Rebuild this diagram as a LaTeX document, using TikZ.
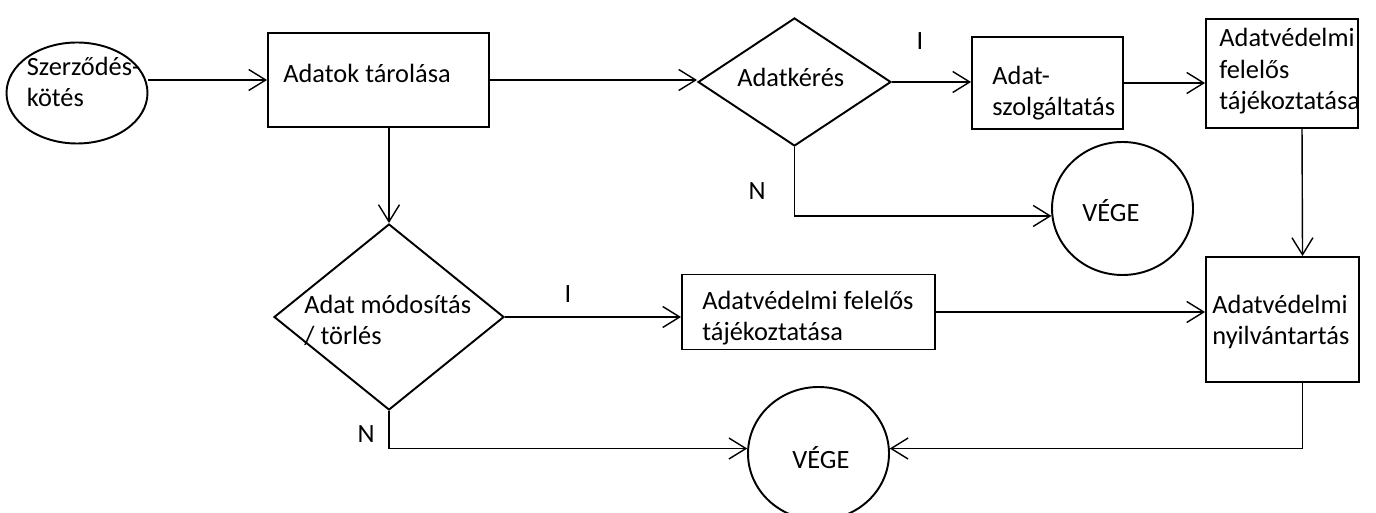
\documentclass[tikz,border=0pt]{standalone}
\usepackage{fontspec}
\setmainfont{Carlito}
\usetikzlibrary{shapes.geometric,arrows.meta}

\begin{document}
\begin{tikzpicture}[
    font=\fontsize{15}{18}\selectfont,
    box/.style={draw, rectangle, line width=1.1pt},
    dontes/.style={draw, diamond, line width=1.1pt, inner sep=0pt},
    vege/.style={draw, ellipse, line width=1.1pt, inner sep=0pt, minimum width=2.82cm, minimum height=2.66cm},
    txt/.style={anchor=base west, align=left, inner sep=0pt},
    nyil/.style={-{Straight Barb[length=3.4mm,width=4.2mm]}, line width=0.8pt}
  ]
    \useasboundingbox (0,0) rectangle (27.52,-10.26);

    % felső sor
    \node[draw, ellipse, line width=1.1pt, inner sep=0pt, minimum width=2.82cm, minimum height=2.02cm] (start) at (1.54,-1.86) {};
    \node[box, minimum width=4.42cm, minimum height=1.88cm] (store) at (7.57,-1.60) {};
    \node[dontes, minimum width=3.86cm, minimum height=2.56cm] (ask) at (15.89,-1.64) {};
    \node[box, minimum width=3.02cm, minimum height=1.84cm] (serve) at (20.95,-1.66) {};
    \node[box, minimum width=3.04cm, minimum height=2.18cm] (info1) at (25.64,-1.47) {};
    \node[vege] (end1) at (22.45,-4.17) {};

    % alsó sor
    \node[dontes, minimum width=4.60cm, minimum height=3.72cm] (modify) at (7.78,-6.34) {};
    \node[box, minimum width=5.06cm, minimum height=1.50cm] (info2) at (16.17,-6.24) {};
    \node[box, minimum width=3.06cm, minimum height=2.50cm] (nyilv) at (25.65,-6.39) {};
    \node[vege] (end2) at (16.37,-9.07) {};

    % szövegek (base = utolsó sor alapvonala)
    \node[txt] (startT) at ([xshift=0.42cm, yshift=-0.28cm]start.west) {Szerződés-\\kötés};
    \node[txt] (storeT) at ([xshift=0.32cm, yshift=-0.06cm]store.west) {Adatok tárolása};
    \node[txt] (askT) at ([xshift=0.80cm, yshift=-0.10cm]ask.west) {Adatkérés};
    \node[txt] (serveT) at ([xshift=0.42cm, yshift=-0.66cm]serve.west) {Adat-\\szolgáltatás};
    \node[txt] (info1T) at ([xshift=0.28cm, yshift=-0.73cm]info1.west) {Adatvédelmi\\felelős\\tájékoztatása};
    \node[txt] (end1T) at ([xshift=0.62cm, yshift=-0.27cm]end1.west) {VÉGE};
    \node[txt] (modifyT) at ([xshift=0.62cm, yshift=-0.56cm]modify.west) {Adat módosítás\\/ törlés};
    \node[txt] (info2T) at ([xshift=0.42cm, yshift=-0.58cm]info2.west) {Adatvédelmi felelős\\tájékoztatása};
    \node[txt] (nyilvT) at ([xshift=0.14cm, yshift=-0.51cm]nyilv.west) {Adatvédelmi\\nyilvántartás};
    \node[txt] (end2T) at ([xshift=0.90cm, yshift=-0.29cm]end2.west) {VÉGE};

    % igen / nem
    \node[inner sep=0pt] (igen1) at (18.40,-0.82) {I};
    \node[inner sep=0pt] (nem1) at (15.14,-3.82) {N};
    \node[inner sep=0pt] (igen2) at (11.36,-5.88) {I};
    \node[inner sep=0pt] (nem2) at (7.32,-8.68) {N};

    % nyilak
    \draw[nyil] (start.east |- store.west) -- (store.west);
    \draw[nyil] (store.east) -- (store.east -| ask.west);
    \draw[nyil] (ask.east) -- (ask.east -| serve.west);
    \draw[nyil] (serve.east) -- (serve.east -| info1.west);
    \draw[nyil] ([xshift=0.4cm]info1.south) -- ([xshift=0.4cm]nyilv.north);
    \draw[nyil] (ask.south) |- (end1.186);
    \draw[nyil] (store.south -| modify.north) -- (modify.north);
    \draw[nyil] (modify.east) -- (modify.east -| info2.west);
    \draw[nyil] (info2.east) -- (info2.east -| nyilv.west);
    \draw[nyil] (modify.south) |- (end2.176);
    \draw[nyil] ([xshift=0.4cm]nyilv.south) |- (end2.4);
  \end{tikzpicture}
\end{document}
